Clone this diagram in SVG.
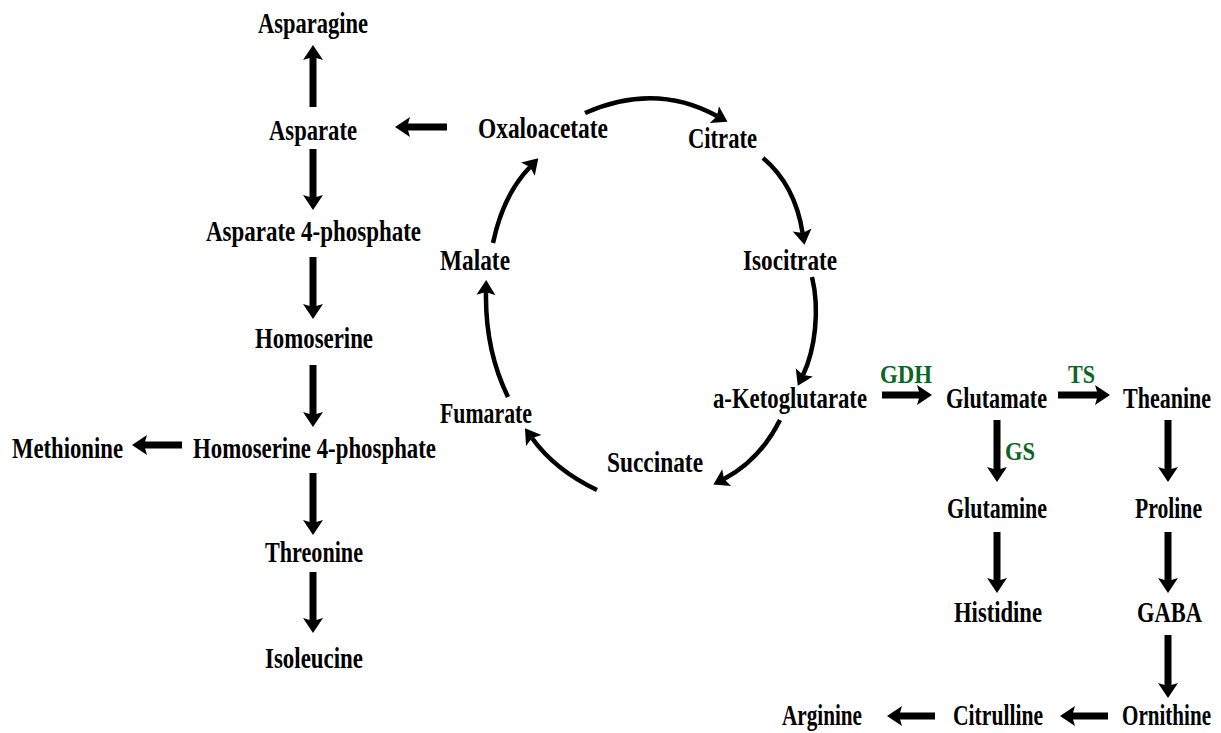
<svg xmlns="http://www.w3.org/2000/svg" width="1221" height="733" viewBox="0 0 1221 733">
<style>
text{font-family:"Liberation Serif","Times New Roman",serif;font-weight:bold;font-size:29px;fill:#000}
.enz{fill:#0b6623;font-size:25px}
.s{fill:none;stroke:#000;stroke-width:7}
.c{fill:none;stroke:#000;stroke-width:4.5}
</style>
<defs>
<marker id="ah" markerUnits="userSpaceOnUse" markerWidth="16" markerHeight="20" refX="3" refY="10" orient="auto" overflow="visible">
<path d="M0,0 L15,10 L0,20 L3,10 z" fill="#000"/>
</marker>
<marker id="ahc" markerUnits="userSpaceOnUse" markerWidth="16" markerHeight="19" refX="3" refY="9.5" orient="auto" overflow="visible">
<path d="M0,0 L15,9.5 L0,19 L3,9.5 z" fill="#000"/>
</marker>
</defs>
<rect width="1221" height="733" fill="#fff"/>
<g id="connectors">
<path class="s" marker-end="url(#ah)" d="M313,107 V57"/>
<path class="s" marker-end="url(#ah)" d="M447,127 H407"/>
<path class="s" marker-end="url(#ah)" d="M313,149 V198"/>
<path class="s" marker-end="url(#ah)" d="M313,257 V307"/>
<path class="s" marker-end="url(#ah)" d="M313,365 V415"/>
<path class="s" marker-end="url(#ah)" d="M182,445 H144"/>
<path class="s" marker-end="url(#ah)" d="M313,473 V523"/>
<path class="s" marker-end="url(#ah)" d="M313,572 V621"/>
<path class="s" marker-end="url(#ah)" d="M882,395 H920"/>
<path class="s" marker-end="url(#ah)" d="M1058,395 H1098"/>
<path class="s" marker-end="url(#ah)" d="M997,420 V470"/>
<path class="s" marker-end="url(#ah)" d="M997,532 V581"/>
<path class="s" marker-end="url(#ah)" d="M1168,420 V470"/>
<path class="s" marker-end="url(#ah)" d="M1168,532 V581"/>
<path class="s" marker-end="url(#ah)" d="M1168,635 V686"/>
<path class="s" marker-end="url(#ah)" d="M1108,716 H1072"/>
<path class="s" marker-end="url(#ah)" d="M935,716 H899"/>
<path class="c" marker-end="url(#ahc)" d="M585,113 Q655,82 717,116"/>
<path class="c" marker-end="url(#ahc)" d="M763,158 Q795,185 802.6,233"/>
<path class="c" marker-end="url(#ahc)" d="M812,277 C820,310 815,350 803,375"/>
<path class="c" marker-end="url(#ahc)" d="M780,420 Q760,460 724,479"/>
<path class="c" marker-end="url(#ahc)" d="M597,490 Q555,470 532,438"/>
<path class="c" marker-end="url(#ahc)" d="M508,397 Q485,350 486,292"/>
<path class="c" marker-end="url(#ahc)" d="M493,243 Q503,195 530,167"/>
</g>
<g id="asparagine"><text x="258" y="33" textLength="110" lengthAdjust="spacingAndGlyphs">Asparagine</text></g>
<g id="asparate"><text x="269" y="140" textLength="88" lengthAdjust="spacingAndGlyphs">Asparate</text></g>
<g id="asparate4p"><text x="206" y="241" textLength="215" lengthAdjust="spacingAndGlyphs">Asparate 4-phosphate</text></g>
<g id="homoserine"><text x="255" y="348" textLength="118" lengthAdjust="spacingAndGlyphs">Homoserine</text></g>
<g id="homoserine4p"><text x="193" y="458" textLength="243" lengthAdjust="spacingAndGlyphs">Homoserine 4-phosphate</text></g>
<g id="methionine"><text x="12" y="458" textLength="111" lengthAdjust="spacingAndGlyphs">Methionine</text></g>
<g id="threonine"><text x="265" y="562" textLength="98" lengthAdjust="spacingAndGlyphs">Threonine</text></g>
<g id="isoleucine"><text x="265" y="668" textLength="98" lengthAdjust="spacingAndGlyphs">Isoleucine</text></g>
<g id="oxaloacetate"><text x="478" y="138" textLength="130" lengthAdjust="spacingAndGlyphs">Oxaloacetate</text></g>
<g id="citrate"><text x="688" y="148" textLength="69" lengthAdjust="spacingAndGlyphs">Citrate</text></g>
<g id="malate"><text x="440" y="270" textLength="70" lengthAdjust="spacingAndGlyphs">Malate</text></g>
<g id="isocitrate"><text x="743" y="270" textLength="94" lengthAdjust="spacingAndGlyphs">Isocitrate</text></g>
<g id="akg"><text x="713" y="408" textLength="154" lengthAdjust="spacingAndGlyphs">a-Ketoglutarate</text></g>
<g id="fumarate"><text x="440" y="423" textLength="92" lengthAdjust="spacingAndGlyphs">Fumarate</text></g>
<g id="succinate"><text x="607" y="472" textLength="96" lengthAdjust="spacingAndGlyphs">Succinate</text></g>
<g id="glutamate"><text x="946" y="408" textLength="101" lengthAdjust="spacingAndGlyphs">Glutamate</text></g>
<g id="theanine"><text x="1123" y="408" textLength="88" lengthAdjust="spacingAndGlyphs">Theanine</text></g>
<g id="glutamine"><text x="947" y="518" textLength="100" lengthAdjust="spacingAndGlyphs">Glutamine</text></g>
<g id="histidine"><text x="954" y="622" textLength="88" lengthAdjust="spacingAndGlyphs">Histidine</text></g>
<g id="proline"><text x="1135" y="518" textLength="67" lengthAdjust="spacingAndGlyphs">Proline</text></g>
<g id="gaba"><text x="1137" y="622" textLength="65" lengthAdjust="spacingAndGlyphs">GABA</text></g>
<g id="ornithine"><text x="1122" y="725" textLength="89" lengthAdjust="spacingAndGlyphs">Ornithine</text></g>
<g id="citrulline"><text x="953" y="725" textLength="90" lengthAdjust="spacingAndGlyphs">Citrulline</text></g>
<g id="arginine"><text x="782" y="725" textLength="80" lengthAdjust="spacingAndGlyphs">Arginine</text></g>
<g id="enzymes">
<text class="enz" x="880" y="383" textLength="52" lengthAdjust="spacingAndGlyphs">GDH</text>
<text class="enz" x="1068" y="383" textLength="27" lengthAdjust="spacingAndGlyphs">TS</text>
<text class="enz" x="1005" y="460" textLength="30" lengthAdjust="spacingAndGlyphs">GS</text>
</g>
</svg>
